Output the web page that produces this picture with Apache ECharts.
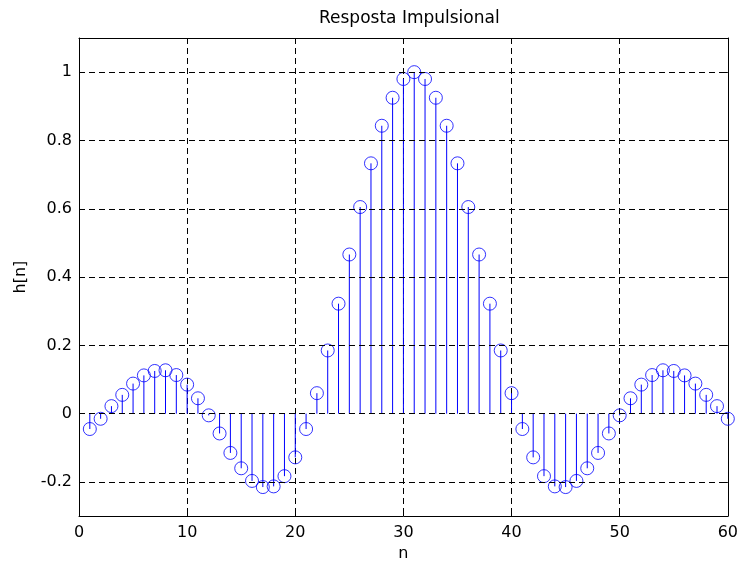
<!DOCTYPE html>
<html>
<head>
<meta charset="utf-8">
<script src="https://cdn.jsdelivr.net/npm/echarts@6/dist/echarts.min.js"></script>
<style>html,body{margin:0;padding:0;background:#fff;}#c{width:741px;height:567px;}</style>
</head>
<body>
<div id="c"></div>
<script>
const nValues = [1,2,3,4,5,6,7,8,9,10,11,12,13,14,15,16,17,18,19,20,21,22,23,24,25,26,27,28,29,30,31,32,33,34,35,36,37,38,39,40,41,42,43,44,45,46,47,48,49,50,51,52,53,54,55,56,57,58,59,60];
const hValues = [-0.045,-0.015,0.022,0.055,0.088,0.112,0.125,0.127,0.113,0.085,0.045,-0.005,-0.058,-0.115,-0.16,-0.197,-0.215,-0.213,-0.183,-0.128,-0.045,0.06,0.185,0.322,0.466,0.605,0.733,0.843,0.925,0.98,1.0,0.98,0.925,0.843,0.733,0.605,0.466,0.322,0.185,0.06,-0.045,-0.128,-0.183,-0.213,-0.215,-0.197,-0.16,-0.115,-0.058,-0.005,0.045,0.085,0.113,0.127,0.125,0.112,0.088,0.055,0.022,-0.015];
const yTicks = [-0.2,0,0.2,0.4,0.6,0.8,1];
const xTicks = [0,10,20,30,40,50,60];

const points = nValues.map((n,i)=>[n,hValues[i]]);
const FONT = '"DejaVu Sans", sans-serif';
const dash = {color:'#000', type:[6,4], width:1};

const chart = echarts.init(document.getElementById('c'));
chart.setOption({
  animation:false,
  backgroundColor:'#fff',
  title:{text:'Resposta Impulsional', left:314, top:5,
    textStyle:{fontFamily:FONT, fontSize:17, fontWeight:'normal', color:'#000'}},
  grid:{left:79, right:8, top:38, bottom:46, containLabel:false},
  xAxis:[{
    type:'value', min:0, max:60, interval:10, position:'bottom',
    name:'n', nameLocation:'middle', nameGap:27,
    nameTextStyle:{fontFamily:FONT, fontSize:16, color:'#000'},
    axisLine:{show:true, onZero:false, lineStyle:{color:'#000', width:1}},
    axisTick:{show:true, inside:true, length:5, lineStyle:{color:'#000'}},
    axisLabel:{fontFamily:FONT, fontSize:16, color:'#000', margin:9},
    splitLine:{show:true, lineStyle:dash}
  },{
    type:'value', min:0, max:60, interval:10, position:'top',
    axisLine:{show:true, onZero:false, lineStyle:{color:'#000', width:1}},
    axisTick:{show:true, inside:true, length:5, lineStyle:{color:'#000'}},
    axisLabel:{show:false}, splitLine:{show:false}
  }],
  yAxis:[{
    type:'value', min:-0.3, max:1.1, position:'left',
    name:'h[n]', nameLocation:'middle', nameGap:50, nameRotate:90,
    nameTextStyle:{fontFamily:FONT, fontSize:16, color:'#000'},
    axisLine:{show:true, onZero:false, lineStyle:{color:'#000', width:1}},
    axisTick:{show:true, inside:true, length:5, customValues:yTicks, lineStyle:{color:'#000'}},
    axisLabel:{fontFamily:FONT, fontSize:16, color:'#000', margin:7, customValues:yTicks},
    splitLine:{show:false}
  },{
    type:'value', min:-0.3, max:1.1, position:'right',
    axisLine:{show:true, onZero:false, lineStyle:{color:'#000', width:1}},
    axisTick:{show:true, inside:true, length:5, customValues:yTicks, lineStyle:{color:'#000'}},
    axisLabel:{show:false}, splitLine:{show:false}
  }],
  series:[{
    type:'line', data:[], silent:true,
    markLine:{silent:true, symbol:'none', label:{show:false}, lineStyle:dash,
      data: yTicks.map(v=>({yAxis:v}))}
  },{
    type:'custom', xAxisIndex:0, yAxisIndex:0, data:points,
    renderItem:function(params, api){
      const p0 = api.coord([api.value(0), 0]);
      const p1 = api.coord([api.value(0), api.value(1)]);
      return {type:'line', shape:{x1:p0[0], y1:p0[1], x2:p1[0], y2:p1[1]},
        style:{stroke:'#0000ff', lineWidth:1}};
    }
  },{
    type:'scatter', xAxisIndex:0, yAxisIndex:0, data:points,
    symbol:'circle', symbolSize:13,
    itemStyle:{color:'rgba(0,0,0,0)', borderColor:'#0000ff', borderWidth:1}
  }]
});
</script>
</body>
</html>
